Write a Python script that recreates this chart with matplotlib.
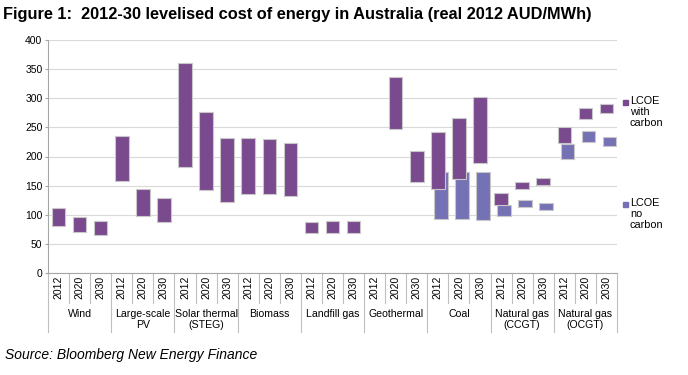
import matplotlib
matplotlib.use("Agg")
import matplotlib.pyplot as plt
import matplotlib.transforms as mtransforms
import numpy as np

plt.rcParams['font.family'] = ['Liberation Sans', 'DejaVu Sans']

groups = ["Wind", "Large-scale\nPV", "Solar thermal\n(STEG)", "Biomass", "Landfill gas",
          "Geothermal", "Coal", "Natural gas\n(CCGT)", "Natural gas\n(OCGT)"]
years = ["2012", "2020", "2030"]

# LCOE with carbon: (low, high) per category/year; None = no bar
carbon_low = [80, 71, 66, 158, 97, 88, 182, 143, 122, 136, 135, 132, 68, 68, 68,
              None, 248, 156, 144, 161, 188, 117, 144, 151, 223, 264, 275]
carbon_high = [112, 96, 90, 236, 145, 129, 360, 277, 232, 231, 230, 224, 88, 89, 89,
               None, 336, 209, 242, 266, 303, 137, 156, 163, 250, 283, 290]
# LCOE no carbon (only fossil)
nocarbon_low = [None] * 18 + [93, 92, 91, 97, 114, 109, 195, 225, 218]
nocarbon_high = [None] * 18 + [174, 174, 173, 116, 126, 120, 222, 244, 234]

purple = "#7a4a8f"
blue = "#7571b5"
edge = "#c8c8c8"

fig = plt.figure(figsize=(6.88, 3.75), dpi=100)
ax = fig.add_axes([48 / 688, 1 - 273 / 375, (617 - 48) / 688, (273 - 40) / 375])

n = len(carbon_low)
x = np.arange(n)
w = 0.64

for i in range(n):
    if nocarbon_low[i] is not None:
        ax.bar(x[i] + 0.14, nocarbon_high[i] - nocarbon_low[i], bottom=nocarbon_low[i],
               width=w, color=blue, edgecolor=edge, linewidth=0.8, zorder=2)
for i in range(n):
    if carbon_low[i] is not None:
        ax.bar(x[i], carbon_high[i] - carbon_low[i], bottom=carbon_low[i],
               width=w, color=purple, edgecolor=edge, linewidth=0.8, zorder=3)

ax.set_xlim(-0.5, n - 0.5)
ax.set_ylim(0, 400)
ax.set_yticks(np.arange(0, 401, 50))
ax.yaxis.grid(True, color="#d9d9d9", linewidth=0.8, zorder=0)
ax.set_axisbelow(True)
for s in ["top", "right"]:
    ax.spines[s].set_visible(False)
ax.spines["left"].set_color("#a6a6a6")
ax.spines["bottom"].set_color("#a6a6a6")
ax.tick_params(axis="y", labelsize=7.5, length=2, color="#a6a6a6", pad=2)
ax.set_xticks([])

trans = mtransforms.blended_transform_factory(ax.transData, fig.transFigure)
def fy(py):
    return 1 - py / 375

# separators
for k in range(n + 1):
    xb = k - 0.5
    bottom = 332 if k % 3 == 0 else 303
    ax.plot([xb, xb], [fy(273), fy(bottom)], color="#bfbfbf", linewidth=0.8,
            transform=trans, clip_on=False)

# year labels
for i in range(n):
    ax.text(x[i], fy(276), years[i % 3], rotation=90, ha="center", va="top",
            fontsize=7.5, transform=trans)

# group labels
for g, name in enumerate(groups):
    ax.text(3 * g + 1, fy(309), name, ha="center", va="top", fontsize=7.6,
            linespacing=1.1, transform=trans)

# legend
fig.patches.append(plt.Rectangle((623 / 688, fy(105)), 5 / 688, 5 / 375,
                                 transform=fig.transFigure, color=purple))
fig.text(630 / 688, fy(96), "LCOE\nwith\ncarbon", fontsize=7.8, va="top", ha="left",
         linespacing=1.15)
fig.patches.append(plt.Rectangle((623 / 688, fy(207)), 5 / 688, 5 / 375,
                                 transform=fig.transFigure, color=blue))
fig.text(630 / 688, fy(198), "LCOE\nno\ncarbon", fontsize=7.8, va="top", ha="left",
         linespacing=1.15)

fig.text(3 / 688, fy(14), "Figure 1:  2012-30 levelised cost of energy in Australia (real 2012 AUD/MWh)",
         fontsize=11.8, fontweight="bold", va="center", ha="left")
fig.text(5 / 688, fy(355), "Source: Bloomberg New Energy Finance", fontsize=10,
         style="italic", va="center", ha="left")

fig.savefig("out.png", dpi=100)
